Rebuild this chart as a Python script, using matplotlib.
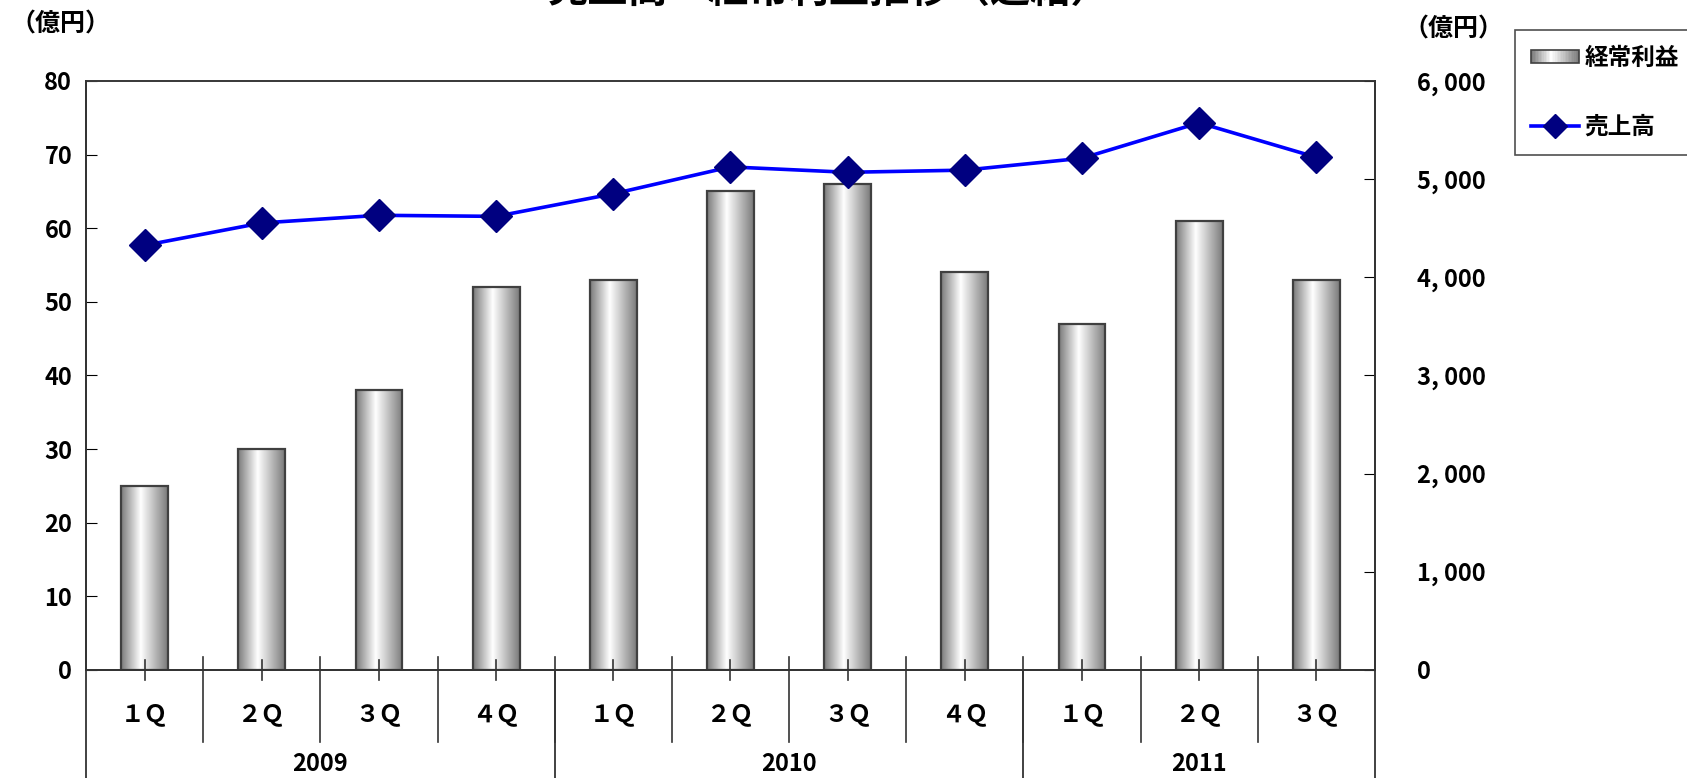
import numpy as np
import matplotlib.pyplot as plt
from matplotlib.colors import LinearSegmentedColormap
from matplotlib.patches import Rectangle
from matplotlib.lines import Line2D
from matplotlib.legend_handler import HandlerBase
import matplotlib.transforms as mtransforms

plt.rcParams['font.family'] = ['Noto Sans CJK JP', 'DejaVu Sans']
plt.rcParams['font.weight'] = 'bold'

# data
quarters = ['１Ｑ', '２Ｑ', '３Ｑ', '４Ｑ', '１Ｑ', '２Ｑ', '３Ｑ', '４Ｑ', '１Ｑ', '２Ｑ', '３Ｑ']
years = ['2009', '2010', '2011']
year_counts = [4, 4, 3]
ordinary_profit = [25, 30, 38, 52, 53, 65, 66, 54, 47, 61, 53]   # 経常利益 (left axis)
sales = [4325, 4553, 4631, 4620, 4850, 5124, 5069, 5091, 5212, 5573, 5222]  # 売上高 (right axis)

grad = LinearSegmentedColormap.from_list(
    'bar', [(0, '#7a7a7a'), (0.42, '#ffffff'), (1, '#7a7a7a')])

fig = plt.figure(figsize=(16.87, 7.78), dpi=100)
ax = fig.add_axes([0.051, 0.139, 0.764, 0.757])
ax2 = ax.twinx()

x = np.arange(len(quarters))
bars = ax.bar(x, ordinary_profit, width=0.4, facecolor='none',
              edgecolor='#404040', linewidth=1.6, zorder=3)
g = np.linspace(0, 1, 256).reshape(1, -1)
for b in bars:
    x0, y0 = b.get_x(), b.get_y()
    ax.imshow(g, cmap=grad, aspect='auto', zorder=2,
              extent=[x0, x0 + b.get_width(), y0, y0 + b.get_height()])
ax.set_xlim(-0.5, len(quarters) - 0.5)
ax.set_ylim(0, 80)
ax.set_yticks(range(0, 81, 10))

ax2.plot(x, sales, color='#0000ff', lw=2.6, marker='D', ms=16,
         mfc='#000080', mec='#000080', zorder=5)
ax2.set_ylim(0, 6000)
ax2.set_yticks(range(0, 6001, 1000))
ax2.set_yticklabels([f'{v:,}'.replace(',', ', ') for v in range(0, 6001, 1000)])

for a in (ax, ax2):
    for s in a.spines.values():
        s.set_color('#333333')
        s.set_linewidth(1.3)
ax.spines['top'].set_color('#888888')
ax.tick_params(axis='y', direction='in', length=8, labelsize=17, pad=10)
ax2.tick_params(axis='y', direction='in', length=8, labelsize=17, pad=30)
ax.tick_params(axis='x', length=0, labelbottom=False)
ax.set_zorder(ax2.get_zorder() - 1)
ax2.patch.set_visible(False)

# category axis
trans = mtransforms.blended_transform_factory(ax.transData, ax.transAxes)
for i, q in enumerate(quarters):
    ax.plot([i, i], [-0.017, 0.017], transform=trans, color='#333333',
            lw=1.2, clip_on=False, zorder=4)
    ax.text(i, -0.075, q, transform=trans, ha='center', va='center', fontsize=17)
    if i > 0:
        ax.plot([i - 0.5, i - 0.5], [-0.122, 0.022], transform=trans,
                color='#333333', lw=1.2, clip_on=False)
start = 0
bounds = [-0.5]
for y, n in zip(years, year_counts):
    ax.text(start + n / 2 - 0.5, -0.16, y, transform=trans, ha='center',
            va='center', fontsize=17)
    start += n
    bounds.append(start - 0.5)
for b in bounds:
    ax.plot([b, b], [0, -0.2], transform=trans, color='#333333', lw=1.3,
            clip_on=False)

fig.text(0.006, 0.968, '（億円）', ha='left', va='center', fontsize=18)
fig.text(0.832, 0.962, '（億円）', ha='left', va='center', fontsize=18)
fig.text(0.492, 1.012, '売上高・経常利益推移（連結）', ha='center', va='center',
         fontsize=29)


class GradientHandler(HandlerBase):
    def create_artists(self, legend, orig_handle, xdescent, ydescent,
                       width, height, fontsize, trans):
        arts = []
        n = 30
        for k in range(n):
            arts.append(Rectangle((-xdescent + width * k / n, -ydescent + height * 0.1),
                                  width / n + 0.3, height * 0.8,
                                  facecolor=grad((k + 0.5) / n), edgecolor='none',
                                  transform=trans))
        arts.append(Rectangle((-xdescent, -ydescent + height * 0.1), width,
                              height * 0.8, facecolor='none', edgecolor='#404040',
                              lw=1.2, transform=trans))
        return arts


bar_handle = Rectangle((0, 0), 1, 1)
line_handle = Line2D([], [], color='#0000ff', lw=2.6, marker='D', ms=12,
                     mfc='#000080', mec='#000080')
leg = fig.legend([bar_handle, line_handle], ['経常利益', '売上高'],
                 handler_map={Rectangle: GradientHandler()},
                 loc='upper left', bbox_to_anchor=(0.898, 0.962),
                 fontsize=17, frameon=True, fancybox=False, edgecolor='#222222',
                 handlelength=2.0, handletextpad=0.25, labelspacing=1.9,
                 borderpad=0.7, borderaxespad=0)
leg.get_frame().set_linewidth(1.2)

plt.savefig('out.png', dpi=100)
